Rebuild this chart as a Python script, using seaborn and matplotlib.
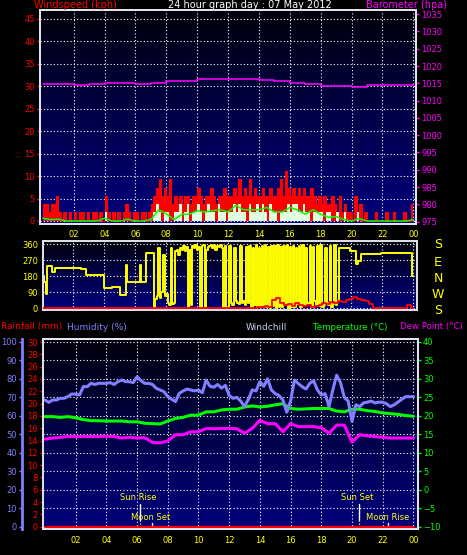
import numpy as np
import matplotlib
matplotlib.use("Agg")
import matplotlib.pyplot as plt
import seaborn as sns
from matplotlib.colors import LinearSegmentedColormap
from matplotlib.ticker import MultipleLocator

sns.set_style("dark", {"axes.facecolor": "black", "figure.facecolor": "black"})
plt.rcParams["font.family"] = ["DejaVu Sans"]

# ---------------- data ----------------
tick_hours = [2, 4, 6, 8, 10, 12, 14, 16, 18, 20, 22, 24]
tick_labels = ["02", "04", "06", "08", "10", "12", "14", "16", "18", "20", "22", "00"]

# barometer (hpa), hourly
baro_hpa = [1014.7, 1014.7, 1014.5, 1014.8, 1015.0, 1015.0, 1014.8, 1015.2,
            1015.6, 1015.8, 1016.1, 1016.2, 1016.2, 1016.2, 1015.9, 1015.6,
            1015.0, 1014.8, 1014.3, 1014.2, 1014.0, 1014.5, 1014.6, 1014.5, 1014.2]

# wind gust (kph), 10 minute readings, one row per hour
gust_rows = [
    [3.7, 3.7, 1.9, 3.7, 3.7, 5.6],
    [1.9, 0, 1.9, 0, 1.9, 0],
    [1.9, 0, 1.9, 1.9, 0, 1.9],
    [0, 1.9, 1.9, 0, 1.9, 0],
    [5.6, 1.9, 0, 1.9, 0, 1.9],
    [0, 1.9, 3.7, 1.9, 0, 1.9],
    [1.9, 0, 1.9, 1.9, 0, 1.9],
    [3.7, 5.6, 7.4, 9.3, 5.6, 7.4],
    [5.6, 9.3, 3.7, 5.6, 3.7, 5.6],
    [3.7, 5.6, 5.6, 3.7, 5.6, 5.6],
    [7.4, 5.6, 3.7, 5.6, 5.6, 7.4],
    [5.6, 3.7, 5.6, 5.6, 7.4, 5.6],
    [5.6, 5.6, 7.4, 5.6, 9.3, 5.6],
    [7.4, 5.6, 9.3, 5.6, 7.4, 5.6],
    [5.6, 7.4, 5.6, 5.6, 7.4, 5.6],
    [5.6, 7.4, 9.3, 5.6, 11.1, 7.4],
    [5.6, 7.4, 5.6, 7.4, 5.6, 7.4],
    [5.6, 5.6, 7.4, 5.6, 3.7, 5.6],
    [3.7, 5.6, 3.7, 3.7, 5.6, 3.7],
    [1.9, 5.6, 1.9, 3.7, 1.9, 1.9],
    [0, 5.6, 1.9, 3.7, 0, 1.9],
    [0, 0, 0, 1.9, 0, 0],
    [0, 1.9, 0, 0, 1.9, 0],
    [0, 0, 1.9, 0, 0, 3.7],
]

# wind speed (kph), 10 minute readings
speed_rows = [
    [0, 0, 0, 0, 0, 0],
    [0, 0, 0, 0, 0, 0],
    [0, 0, 0, 0, 0, 0],
    [0, 0, 0, 0, 0, 0],
    [1.9, 0, 0, 0, 0, 0],
    [0, 0, 0, 0, 0, 0],
    [0, 0, 0, 0, 0, 0],
    [0, 1.9, 3.7, 1.9, 0, 1.9],
    [1.9, 0, 0, 1.9, 1.9, 3.7],
    [0, 1.9, 3.7, 0, 1.9, 1.9],
    [3.7, 1.9, 0, 1.9, 3.7, 1.9],
    [1.9, 0, 3.7, 1.9, 1.9, 0],
    [1.9, 1.9, 3.7, 1.9, 3.7, 1.9],
    [1.9, 0, 3.7, 1.9, 1.9, 3.7],
    [1.9, 3.7, 1.9, 0, 3.7, 1.9],
    [1.9, 0, 1.9, 1.9, 1.9, 3.7],
    [1.9, 3.7, 3.7, 1.9, 1.9, 3.7],
    [1.9, 1.9, 0, 1.9, 1.9, 1.9],
    [1.9, 0, 1.9, 1.9, 0, 0],
    [1.9, 0, 0, 1.9, 0, 0],
    [0, 0, 1.9, 0, 0, 0],
    [0, 0, 0, 0, 0, 0],
    [0, 0, 0, 0, 0, 0],
    [0, 0, 0, 0, 0, 0],
]

# average wind speed (kph), half hourly
avg_wind = [0.6, 0.3, 0.4, 0, 0, 0, 0, 0, 0.6, 0, 0, 0.4, 0, 0, 0.3, 2.5,
            1.6, 0.3, 1.5, 1.5, 2.3, 2.0, 2.3, 2.5, 2.0, 3.5, 2.5, 2.5, 2.5, 3.0,
            2.0, 2.0, 3.0, 2.5, 1.5, 2.5, 1.5, 0.8, 1.0, 0.3, 0, 0.5, 0, 0,
            0, 0, 0, 0, 0.3]

# wind direction (deg), 6 minute readings, one row per hour
dir_rows = [
    [180, 150, 80, 240, 240, 240, 205, 205, 228, 228],
    [228, 228, 228, 228, 228, 228, 228, 228, 228, 228],
    [228, 228, 228, 228, 228, 220, 220, 220, 185, 185],
    [185, 185, 185, 185, 185, 185, 185, 185, 185, 185],
    [112, 112, 112, 112, 112, 118, 118, 118, 118, 118],
    [77, 77, 77, 77, 243, 150, 150, 150, 150, 150],
    [150, 150, 150, 243, 150, 150, 150, 310, 310, 310],
    [310, 310, 10, 50, 70, 340, 60, 90, 300, 70],
    [80, 30, 20, 340, 25, 30, 320, 330, 300, 340],
    [330, 350, 320, 345, 5, 330, 20, 350, 340, 355],
    [330, 345, 0, 350, 355, 5, 330, 345, 350, 355],
    [340, 355, 330, 350, 345, 355, 340, 5, 350, 0],
    [5, 350, 30, 20, 340, 40, 30, 25, 350, 30],
    [40, 20, 345, 30, 350, 10, 340, 20, 355, 10],
    [340, 5, 350, 20, 355, 10, 345, 0, 350, 15],
    [350, 0, 355, 10, 345, 5, 350, 20, 355, 0],
    [345, 10, 350, 5, 340, 25, 350, 10, 355, 20],
    [340, 20, 30, 350, 10, 345, 40, 20, 350, 15],
    [355, 10, 20, 340, 30, 20, 350, 10, 25, 355],
    [20, 40, 337, 337, 337, 337, 337, 337, 337, 320],
    [320, 320, 320, 250, 268, 268, 305, 305, 305, 305],
    [305, 305, 305, 305, 305, 305, 305, 305, 305, 312],
    [312, 312, 312, 312, 312, 312, 312, 312, 312, 312],
    [312, 312, 312, 312, 312, 312, 312, 312, 312, 180],
]

# red trace in the direction panel (deg scale), 15 minute readings
dir_red_rows = [[0, 0, 0, 0]] * 14 + [
    [5, 10, 15, 10],
    [45, 60, 30, 20],
    [25, 15, 30, 20],
    [15, 20, 10, 15],
    [20, 30, 25, 35],
    [30, 40, 35, 45],
    [50, 65, 55, 45],
    [40, 25, 0, 0],
    [0, 0, 0, 0],
    [0, 0, 0, 20],
]

# humidity (%), 15 minute readings
humidity_rows = [
    [68.6, 67.3, 68.6, 68.6], [69.5, 69.5, 70.5, 71.8], [71.8, 71.3, 75.8, 75.8],
    [77.6, 77.0, 77.6, 77.6], [77.6, 78.0, 77.0, 78.5], [79.4, 78.5, 78.5, 78.0],
    [81.2, 79.0, 77.6, 77.6], [77.0, 74.9, 74.0, 73.1], [70.4, 69.0, 67.7, 72.2],
    [73.5, 74.5, 74.0, 73.5], [74.0, 72.5, 79.4, 76.0], [75.5, 77.0, 75.0, 76.5],
    [71.0, 69.5, 70.0, 68.0], [65.0, 69.0, 74.0, 73.5], [78.5, 76.0, 80.0, 74.0],
    [72.0, 71.0, 68.5, 62.0], [68.0, 79.4, 77.5, 75.8], [74.5, 77.6, 79.0, 74.0],
    [71.3, 72.0, 65.0, 74.0], [82.0, 78.0, 70.0, 68.0], [57.0, 66.0, 65.0, 67.0],
    [67.4, 68.0, 67.0, 67.4], [67.4, 66.5, 65.0, 66.0], [67.5, 69.0, 70.4, 70.4],
]
humidity_end = 70.4

# temperature and dew point (C), half hourly
temperature = [19.8, 19.8, 19.6, 19.8, 19.5, 19.0, 18.7, 18.7, 18.6, 18.6,
               18.6, 18.4, 18.4, 18.0, 17.9, 17.8, 18.6, 19.3, 19.6, 20.2,
               20.2, 21.1, 21.1, 21.6, 21.8, 21.8, 22.4, 22.7, 22.4, 22.6,
               23.0, 23.3, 22.0, 21.8, 21.9, 22.0, 22.0, 22.0, 21.3, 21.1,
               21.8, 21.8, 21.4, 21.2, 20.8, 20.6, 20.4, 20.1, 19.9]
dew_point = [13.7, 14.0, 14.2, 14.4, 14.4, 14.4, 14.4, 14.4, 14.5, 14.4,
             14.0, 14.2, 14.0, 14.1, 12.8, 12.7, 13.2, 14.9, 14.9, 15.7,
             15.7, 16.6, 16.5, 16.6, 16.6, 16.5, 15.3, 16.6, 18.8, 17.9,
             17.9, 15.7, 17.9, 17.1, 17.1, 17.1, 16.8, 15.3, 17.5, 17.5,
             12.9, 14.9, 14.6, 14.4, 14.2, 14.0, 14.0, 14.0, 14.0]

rain_hours = [0.05, 24.0]
rain_mm = [0.0, 0.0]

sun_events = ["Sun Rise", "Sun Set"]
sun_hours = [6.2, 20.48]
moon_events = ["Moon Set", "Moon Rise"]
moon_hours = [6.95, 22.36]


def flat(rows):
    return [v for r in rows for v in r]


gust = flat(gust_rows)
speed = flat(speed_rows)
t10 = np.arange(len(gust) + 1) / 6
gust_s = gust + [gust[-1]]
speed_s = speed + [speed[-1]]
t_half = np.arange(len(avg_wind)) / 2
direction = flat(dir_rows) + [180]
t6 = np.arange(len(direction)) / 10
dir_red = flat(dir_red_rows) + [0]
t15 = np.arange(len(dir_red)) / 4
humidity = flat(humidity_rows) + [humidity_end]

# ---------------- figure ----------------
W, H = 467, 555
PT = 0.72  # points per pixel at 100 dpi
fig = plt.figure(figsize=(W / 100, H / 100), dpi=100, facecolor="black")


def box(l, t, r, b):
    return [l / W, 1 - b / H, (r - l) / W, (b - t) / H]


navy = LinearSegmentedColormap.from_list("navy", ["#00000a", "#00004a", "#00007c"])
grid_kw = dict(color="white", linestyle=(0, (1, 2)), linewidth=0.8)
frame = "#e4e4ee"


def backdrop(ax):
    ax.imshow(np.linspace(0, 1, 256).reshape(-1, 1), cmap=navy, aspect="auto",
              extent=[0, 1, 0, 1], transform=ax.transAxes, zorder=-5)


def style_frame(*axes):
    for a in axes:
        a.set_facecolor("none")
        for s in a.spines.values():
            s.set_color(frame)
            s.set_linewidth(1.4)


def hour_axis(ax, labels, pad=4):
    ax.set_xticks(tick_hours)
    ax.set_xticklabels(tick_labels if labels else [])
    ax.tick_params(axis="x", length=0, labelcolor="yellow", labelsize=6, pad=pad)
    ax.xaxis.grid(True, **grid_kw)


tick_kw = dict(length=3 * PT, width=1, labelsize=6, pad=2 * PT)

# ---- windspeed / barometer ----
ax_w = fig.add_axes(box(40, 10, 416, 224))
backdrop(ax_w)
ax_w.fill_between(t10, gust_s, step="post", color="#ff0000", lw=0, zorder=2)
sns.lineplot(x=t10, y=gust_s, ax=ax_w, color="#ff0000", lw=0.8,
             drawstyle="steps-post", estimator=None, zorder=2)
ax_w.fill_between(t10, speed_s, step="post", color="#e0ffe0", lw=0, zorder=3)
sns.lineplot(x=t_half, y=avg_wind, ax=ax_w, color="#00ff00", lw=1.1,
             estimator=None, zorder=4)
ax_w.set_xlim(-0.18, 24.17)
ax_w.set_ylim(-0.67, 47.0)
ax_w.set_yticks(range(0, 50, 5))
ax_w.yaxis.set_minor_locator(MultipleLocator(1))
ax_w.tick_params(axis="y", which="major", colors="#ff0000", **tick_kw)
ax_w.tick_params(axis="y", which="minor", colors="#ff0000", length=1.5 * PT, left=True)
ax_w.yaxis.grid(True, **grid_kw)
hour_axis(ax_w, True, pad=4)
ax_w.set_xlabel("")
ax_w.set_ylabel("")

ax_b = ax_w.twinx()
sns.lineplot(x=np.arange(len(baro_hpa)), y=baro_hpa, ax=ax_b, color="#ff00ff",
             lw=1.1, drawstyle="steps-post", estimator=None)
ax_b.set_ylim(974.3, 1036.2)
ax_b.set_yticks(range(975, 1036, 5))
ax_b.tick_params(axis="y", colors="#ff00ff", **tick_kw)
ax_b.grid(False)
ax_b.set_ylabel("")
style_frame(ax_w, ax_b)

# ---- wind direction ----
ax_d = fig.add_axes(box(43, 241, 417, 310))
backdrop(ax_d)
sns.lineplot(x=t6, y=direction, ax=ax_d, color="#ffff00", lw=1.4,
             drawstyle="steps-post", estimator=None, zorder=2)
sns.lineplot(x=t15, y=dir_red, ax=ax_d, color="#ff0000", lw=1.3,
             drawstyle="steps-mid", estimator=None, zorder=3)
ax_d.set_xlim(0.03, 24.25)
ax_d.set_ylim(-9.6, 378.6)
ax_d.set_yticks([0, 90, 180, 270, 360])
ax_d.yaxis.set_minor_locator(MultipleLocator(22.5))
ax_d.tick_params(axis="y", which="major", colors="#ffff00", **tick_kw)
ax_d.tick_params(axis="y", which="minor", colors="#ffff00", length=1.5 * PT, left=True)
ax_d.yaxis.grid(True, **grid_kw)
hour_axis(ax_d, False)
ax_d.set_ylabel("")
style_frame(ax_d)
for letter, yp in zip(["S", "E", "N", "W", "S"], [245, 262, 278, 295, 311]):
    fig.text(438 / W, 1 - yp / H, letter, color="#ffff00", fontsize=9,
             ha="center", va="center")

# ---- humidity / rain / temperature ----
ax_h = fig.add_axes(box(43, 339, 418, 529))
backdrop(ax_h)
ax_h.set_xlim(-0.13, 24.3)
ax_h.set_ylim(-1.25, 101.6)
ax_h.set_yticks(range(0, 101, 10))
ax_h.yaxis.grid(True, **grid_kw)
hour_axis(ax_h, True, pad=5)

ax_t = ax_h.twinx()
sns.lineplot(x=t_half, y=temperature, ax=ax_t, color="#00ff00", lw=2.2, estimator=None)
sns.lineplot(x=t_half, y=dew_point, ax=ax_t, color="#ff00ff", lw=2.2, estimator=None)
ax_t.set_ylim(-10.62, 40.81)
ax_t.set_yticks(range(-10, 41, 5))
ax_t.tick_params(axis="y", colors="#00ff00", **tick_kw)
ax_t.grid(False)
ax_t.set_ylabel("")

ax_hl = ax_h.twinx()
sns.lineplot(x=t15, y=humidity, ax=ax_hl, color="#8080ff", lw=2.2, estimator=None)
ax_hl.set_ylim(-1.25, 101.6)
ax_hl.set_yticks([])
ax_hl.grid(False)
ax_hl.set_ylabel("")

ax_r = ax_h.twinx()
sns.lineplot(x=rain_hours, y=rain_mm, ax=ax_r, color="#ff0000", lw=2.4, estimator=None)
ax_r.set_ylim(-0.375, 30.49)
ax_r.yaxis.set_ticks_position("left")
ax_r.set_yticks(range(0, 31, 2))
ax_r.yaxis.set_minor_locator(MultipleLocator(1))
ax_r.tick_params(axis="y", which="major", colors="#ff0000", **tick_kw)
ax_r.tick_params(axis="y", which="minor", colors="#ff0000", length=1.5 * PT)
ax_r.grid(False)
ax_r.set_ylabel("")

ax_h.yaxis.set_ticks_position("left")
ax_h.spines["left"].set_position(("outward", 21 * PT))
ax_h.tick_params(axis="y", colors="#8080ff", **tick_kw)
style_frame(ax_h, ax_t, ax_hl, ax_r)
ax_h.spines["left"].set_color("#8080ff")
ax_h.spines["left"].set_linewidth(2.0)
for a in (ax_t, ax_hl, ax_r):
    a.spines["left"].set_visible(a is ax_r)

# sun / moon markers (drawn in humidity units)
for name, hr in zip(sun_events, sun_hours):
    ax_hl.plot([hr, hr], [12.3, 3.6], color="white", lw=1)
    ax_hl.plot([hr, hr], [3.6, 0], color="#ffff00", lw=0.9, linestyle=(0, (1, 1.5)))
    ax_hl.text(hr - 0.15, 15.7, name, color="#ffff00", fontsize=6, ha="center", va="center")
for name, hr in zip(moon_events, moon_hours):
    ax_hl.plot([hr, hr], [1.8, -1.3], color="white", lw=1, clip_on=False)
    ax_hl.text(hr - 0.05, 5.1, name, color="#ffff00", fontsize=6, ha="center", va="center")

# ---- titles ----
fig.text(34 / W, 1 - 5 / H, "Windspeed (kph)", color="#ff0000", fontsize=7, va="center")
fig.text(250 / W, 1 - 5 / H, "24 hour graph day : 07 May 2012", color="white",
         fontsize=7, ha="center", va="center")
fig.text(447 / W, 1 - 5 / H, "Barometer (hpa)", color="#ff00ff", fontsize=7,
         ha="right", va="center")
row = 1 - 327 / H
fig.text(1 / W, row, "Rainfall (mm)", color="#ff0000", fontsize=6.5, va="center")
fig.text(67 / W, row, "Humidity (%)", color="#8080ff", fontsize=6.5, va="center")
fig.text(246 / W, row, "Windchill", color="#c4d0f4", fontsize=6.5, va="center")
fig.text(313 / W, row, "Temperature (\u00b0C)", color="#00ff00", fontsize=6.2, va="center")
fig.text(463 / W, row, "Dew Point (\u00b0C)", color="#ff00ff", fontsize=6.2,
         ha="right", va="center")

fig.savefig("out.png", dpi=100, facecolor="black")
